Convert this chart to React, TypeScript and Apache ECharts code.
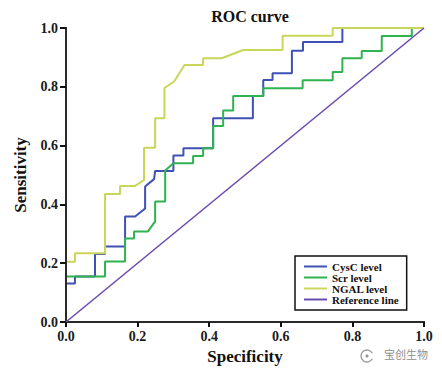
import React, { useEffect, useRef } from 'react';
import * as echarts from 'echarts';

const seriesNames = ['CysC level', 'Scr level', 'NGAL level', 'Reference line'];
const seriesColors = ['#3f51b5', '#2fb350', '#c9d65a', '#6a4cb0'];

// 1 - specificity (x) and sensitivity (y) vertices
const cysCX = [0, 0.025, 0.025, 0.081, 0.081, 0.109, 0.109, 0.165, 0.165, 0.193, 0.221, 0.221, 0.246, 0.249, 0.3, 0.3, 0.328, 0.328, 0.411, 0.411, 0.522, 0.522, 0.551, 0.551, 0.577, 0.577, 0.631, 0.631, 0.662, 0.662, 0.772, 0.772, 1];
const cysCY = [0.131, 0.131, 0.155, 0.155, 0.231, 0.231, 0.257, 0.257, 0.359, 0.359, 0.386, 0.461, 0.486, 0.514, 0.514, 0.566, 0.566, 0.591, 0.591, 0.693, 0.693, 0.769, 0.769, 0.823, 0.823, 0.846, 0.846, 0.923, 0.923, 0.952, 0.952, 1, 1];

const scrX = [0, 0.109, 0.109, 0.165, 0.165, 0.19, 0.19, 0.216, 0.229, 0.249, 0.249, 0.277, 0.277, 0.3, 0.355, 0.355, 0.383, 0.383, 0.411, 0.411, 0.439, 0.439, 0.467, 0.467, 0.551, 0.551, 0.661, 0.661, 0.745, 0.745, 0.772, 0.772, 0.826, 0.826, 0.882, 0.882, 0.966, 0.966, 1];
const scrY = [0.155, 0.155, 0.206, 0.206, 0.284, 0.284, 0.308, 0.308, 0.308, 0.342, 0.41, 0.41, 0.515, 0.54, 0.54, 0.565, 0.565, 0.591, 0.591, 0.667, 0.667, 0.719, 0.719, 0.769, 0.769, 0.795, 0.795, 0.822, 0.822, 0.85, 0.85, 0.897, 0.897, 0.922, 0.922, 0.973, 0.973, 1, 1];

const ngalX = [0, 0.025, 0.025, 0.109, 0.109, 0.151, 0.151, 0.193, 0.218, 0.218, 0.249, 0.249, 0.275, 0.275, 0.302, 0.331, 0.383, 0.383, 0.435, 0.495, 0.605, 0.605, 0.745, 0.745, 1];
const ngalY = [0.205, 0.205, 0.234, 0.234, 0.435, 0.435, 0.463, 0.463, 0.483, 0.593, 0.593, 0.693, 0.693, 0.796, 0.818, 0.874, 0.874, 0.897, 0.897, 0.925, 0.925, 0.974, 0.974, 1, 1];

const refX = [0, 1];
const refY = [0, 1];

const FONT = '"Liberation Serif", "Times New Roman", serif';

const zip = (xs: number[], ys: number[]) => xs.map((x, i) => [x, ys[i]]);

export default function App() {
  const ref = useRef<HTMLDivElement>(null);
  useEffect(() => {
    if (!ref.current) return;
    const chart = echarts.init(ref.current, null, { renderer: 'svg' });
    const lists = [zip(cysCX, cysCY), zip(scrX, scrY), zip(ngalX, ngalY), zip(refX, refY)];
    const labelStyle = { fontFamily: FONT, fontWeight: 'bold', fontSize: 14, color: '#1a1a1a' };
    chart.setOption({
      animation: false,
      backgroundColor: '#fff',
      title: {
        text: 'ROC curve',
        left: 245,
        textAlign: 'center',
        top: 3,
        textStyle: { fontFamily: FONT, fontWeight: 'bold', fontSize: 16, color: '#111' },
      },
      grid: { left: 66, right: 18, top: 28, bottom: 52, containLabel: false },
      legend: {
        orient: 'vertical',
        left: 295,
        top: 256,
        padding: [5, 8, 5, 9],
        itemGap: 0,
        itemWidth: 23,
        itemHeight: 2,
        icon: 'rect',
        borderColor: '#111',
        borderWidth: 1.5,
        backgroundColor: '#fff',
        data: seriesNames,
        textStyle: { fontFamily: FONT, fontWeight: 'bold', fontSize: 11, color: '#111', lineHeight: 11 },
      },
      xAxis: [
        {
          type: 'value', min: 0, max: 1, interval: 0.2, position: 'bottom', z: 5,
          name: 'Specificity', nameLocation: 'middle', nameGap: 25,
          nameTextStyle: { fontFamily: FONT, fontWeight: 'bold', fontSize: 17, color: '#111' },
          axisLine: { show: true, lineStyle: { color: '#111', width: 2 } },
          axisTick: { show: true, length: 5, lineStyle: { color: '#111', width: 2 } },
          axisLabel: { ...labelStyle, margin: 7, formatter: (v: number) => v.toFixed(1) },
          splitLine: { show: false },
        },
        {
          type: 'value', min: 0, max: 1, position: 'top', z: 5,
          axisLine: { show: true, lineStyle: { color: '#333', width: 1.5 } },
          axisTick: { show: false }, axisLabel: { show: false }, splitLine: { show: false },
        },
      ],
      yAxis: [
        {
          type: 'value', min: 0, max: 1, interval: 0.2, position: 'left', z: 5,
          name: 'Sensitivity', nameLocation: 'middle', nameGap: 37,
          nameTextStyle: { fontFamily: FONT, fontWeight: 'bold', fontSize: 17, color: '#111' },
          axisLine: { show: true, lineStyle: { color: '#111', width: 2 } },
          axisTick: { show: true, length: 6, lineStyle: { color: '#111', width: 2 } },
          axisLabel: { ...labelStyle, margin: 8, formatter: (v: number) => v.toFixed(1) },
          splitLine: { show: false },
        },
        {
          type: 'value', min: 0, max: 1, position: 'right', z: 5,
          axisLine: { show: true, lineStyle: { color: '#333', width: 1.5 } },
          axisTick: { show: false }, axisLabel: { show: false }, splitLine: { show: false },
        },
      ],
      series: seriesNames.map((name, i) => ({
        name,
        type: 'line',
        data: lists[i],
        symbol: 'none',
        showSymbol: false,
        xAxisIndex: 0,
        yAxisIndex: 0,
        clip: true,
        lineStyle: { color: seriesColors[i], width: i === 3 ? 1.6 : 2 },
        itemStyle: { color: seriesColors[i] },
        z: 2 + i,
      })),
      graphic: [
        {
          type: 'arc',
          shape: { cx: 367, cy: 356, r: 6, startAngle: Math.PI * 0.15, endAngle: Math.PI * 1.85 },
          style: { stroke: '#9a9a9a', lineWidth: 1.3, fill: 'none' },
        },
        {
          type: 'circle',
          shape: { cx: 367, cy: 356, r: 1.6 },
          style: { fill: '#9a9a9a' },
        },
        {
          type: 'text',
          left: 384,
          top: 348,
          style: { text: '宝创生物', fontSize: 11, fill: '#8f8f8f', fontFamily: '"Noto Sans CJK SC", sans-serif' },
        },
      ],
    });
    return () => chart.dispose();
  }, []);
  return (
    <div
      ref={ref}
      style={{ position: 'fixed', left: 0, top: 0, width: 442, height: 374, background: '#fff' }}
    />
  );
}
